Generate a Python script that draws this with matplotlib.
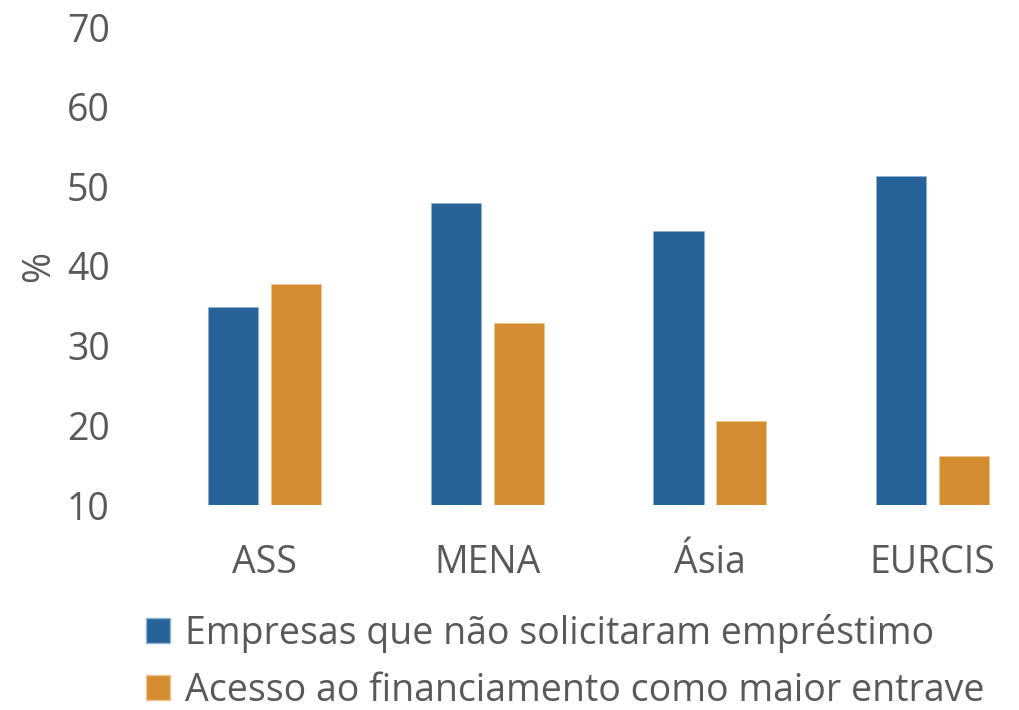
import matplotlib
matplotlib.use("Agg")
import matplotlib.pyplot as plt
import numpy as np
from matplotlib.patches import Patch

categories = ["ASS", "MENA", "Ásia", "EURCIS"]
series_names = ["Empresas que não solicitaram empréstimo",
                "Acesso ao financiamento como maior entrave"]
nao_solicitaram = [34.8, 47.9, 44.4, 51.3]
acesso_financiamento = [37.8, 32.8, 20.5, 16.2]
yticks = [10, 20, 30, 40, 50, 60, 70]

blue = "#276398"
orange = "#D48C31"
gray = "#595959"

plt.rcParams['font.family'] = ['Open Sans', 'DejaVu Sans']

fig = plt.figure(figsize=(10.2, 7.1), dpi=100)
ax = fig.add_axes([125/1020, 1 - 505/710, (1015-125)/1020, (505-27)/710])

x = np.arange(len(categories))
w = 0.225
off = 0.141
base = yticks[0]
ax.bar(x - off, np.array(nao_solicitaram) - base, w, bottom=base, color=blue,
       edgecolor="#8fb3d6", linewidth=0.6)
ax.bar(x + off, np.array(acesso_financiamento) - base, w, bottom=base, color=orange,
       edgecolor="#f0c48f", linewidth=0.6)

ax.set_xlim((125-264.5)/222.7, (1015-264.5)/222.7)
ax.set_ylim(10, 70)
ax.set_yticks(yticks)
ax.set_xticks(x)
ax.set_xticklabels(categories)
for s in ax.spines.values():
    s.set_visible(False)
ax.tick_params(axis='both', length=0, labelsize=27, labelcolor=gray)
ax.tick_params(axis='y', pad=11)
ax.tick_params(axis='x', pad=28)
ax.set_ylabel("%", fontsize=27, color=gray, labelpad=6)

handles = [Patch(facecolor=blue, edgecolor="#8fb3d6"), Patch(facecolor=orange, edgecolor="#f0c48f")]
fig.legend(handles, series_names, loc='upper left', bbox_to_anchor=(146/1020, 1 - 614/710),
           frameon=False, fontsize=27, labelcolor=gray, handlelength=0.65, handleheight=0.65,
           handletextpad=0.4, labelspacing=0.5, borderaxespad=0, borderpad=0)

fig.savefig("out.png", dpi=100)
